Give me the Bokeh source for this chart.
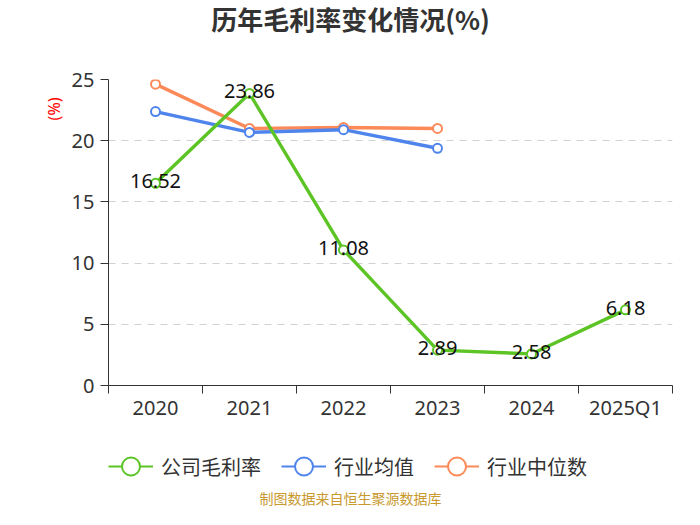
from bokeh.plotting import figure
from bokeh.layouts import column
from bokeh.models import (ColumnDataSource, FixedTicker, Legend, LegendItem,
                          Range1d, Title, Label)
from bokeh.core.properties import value
from bokeh.embed import file_html
from bokeh.resources import INLINE

# ---- data ----
categories = ["2020", "2021", "2022", "2023", "2024", "2025Q1"]
company_margin = [16.52, 23.86, 11.08, 2.89, 2.58, 6.18]
industry_mean = [22.38, 20.68, 20.90, 19.38, None, None]
industry_median = [24.62, 21.00, 21.08, 21.00, None, None]
series_names = ["公司毛利率", "行业均值", "行业中位数"]
y_ticks = [0, 5, 10, 15, 20, 25]
title_text = "历年毛利率变化情况(%)"
y_label_text = "(%)"
footer_text = "制图数据来自恒生聚源数据库"

colors = ["#5cc424", "#4f84ec", "#fc8a59"]

W = 684
H_TOP = 40
H_MAIN = 400
H_LEG = 69
FRAME_LEFT = 108
FRAME_TOP = 79
FRAME_BOTTOM = 385


def strip(height):
    f = figure(width=W, height=height, output_backend="svg", toolbar_location=None,
               x_range=Range1d(1000, 1000 + W), y_range=Range1d(1000, 1000 + height),
               x_axis_type=None, y_axis_type=None, min_border=0, title=None)
    f.outline_line_color = None
    f.xgrid.grid_line_color = None
    f.ygrid.grid_line_color = None
    f.background_fill_color = "white"
    f.border_fill_color = "white"
    return f


# ---- title strip ----
t = strip(H_TOP)
t.add_layout(Label(x=350 - FRAME_LEFT, y=H_TOP - 18, x_units="screen", y_units="screen",
                   text=title_text, text_align="center", text_baseline="middle",
                   text_font="Noto Sans CJK SC", text_font_size="26px",
                   text_font_style="bold", text_color="#333333"))

# ---- main chart ----
p = figure(width=W, height=H_MAIN, output_backend="svg", toolbar_location=None,
           x_range=Range1d(0, len(categories)), y_range=Range1d(0, 25),
           min_border_left=FRAME_LEFT, min_border_right=12,
           min_border_top=FRAME_TOP - H_TOP,
           min_border_bottom=H_TOP + H_MAIN - FRAME_BOTTOM, title=None)
p.outline_line_color = None
p.background_fill_color = "white"
p.border_fill_color = "white"

xs = [i + 0.5 for i in range(len(categories))]

p.xaxis.ticker = FixedTicker(ticks=xs, minor_ticks=list(range(len(categories) + 1)))
p.xaxis.major_label_overrides = {x: c for x, c in zip(xs, categories)}
p.xaxis.major_tick_out = 0
p.xaxis.major_tick_in = 0
p.xaxis.minor_tick_out = 8
p.xaxis.minor_tick_in = 0
p.xaxis.minor_tick_line_color = "#333333"
p.xaxis.axis_line_color = "#333333"
p.xaxis.major_label_text_font = "Noto Sans"
p.xaxis.major_label_text_font_size = "20px"
p.xaxis.major_label_text_color = "#333333"
p.xaxis.major_label_standoff = 0

p.yaxis.ticker = FixedTicker(ticks=y_ticks)
p.yaxis.major_tick_out = 8
p.yaxis.major_tick_in = 0
p.yaxis.minor_tick_line_color = None
p.yaxis.axis_line_color = "#333333"
p.yaxis.major_tick_line_color = "#333333"
p.yaxis.major_label_text_font = "Noto Sans"
p.yaxis.major_label_text_font_size = "20px"
p.yaxis.major_label_text_color = "#333333"
p.yaxis.major_label_standoff = 6

p.xgrid.grid_line_color = None
p.ygrid.ticker = FixedTicker(ticks=y_ticks[1:])
p.ygrid.grid_line_color = "#d0d0d0"
p.ygrid.grid_line_dash = "7 6"
p.ygrid.grid_line_width = 1

all_series = [company_margin, industry_mean, industry_median]
for idx in [2, 1, 0]:
    vals = all_series[idx]
    px = [x for x, v in zip(xs, vals) if v is not None]
    py = [v for v in vals if v is not None]
    src = ColumnDataSource(dict(x=px, y=py))
    p.line("x", "y", source=src, line_color=colors[idx], line_width=3.4)
    p.scatter("x", "y", source=src, size=9, marker="circle", fill_color="white",
              line_color=colors[idx], line_width=2)

lab_src = ColumnDataSource(dict(x=xs, y=company_margin,
                                t=["%.2f" % v for v in company_margin]))
p.text("x", "y", text="t", source=lab_src, text_align="center",
       text_baseline="middle", text_font_size="20px", text_color="#111111",
       y_offset=-2, text_font=value("Noto Sans"))

p.add_layout(Title(text=y_label_text, align="right", offset=18, standoff=8,
                   text_font="Noto Sans", text_font_size="16px",
                   text_font_style="normal", text_color="#ff0000"), "left")

# ---- legend + footer strip ----
q = strip(H_LEG)
items = []
for idx, name in enumerate(series_names):
    vals = all_series[idx]
    px = [x for x, v in zip(xs, vals) if v is not None]
    py = [v for v in vals if v is not None]
    src = ColumnDataSource(dict(x=px, y=py))
    r1 = q.line("x", "y", source=src, line_color=colors[idx], line_width=2)
    r2 = q.scatter("x", "y", source=src, size=19, marker="circle",
                   fill_color="white", line_color=colors[idx], line_width=2)
    items.append(LegendItem(label=name, renderers=[r1, r2]))
legend = Legend(items=items, orientation="horizontal", location=(0, 19),
                padding=0, margin=0, spacing=20, glyph_width=45, glyph_height=48,
                label_standoff=8, label_text_font="Noto Sans CJK SC",
                label_text_font_size="20px", label_text_color="#333333",
                border_line_color=None, background_fill_alpha=0)
q.add_layout(legend, "center")
q.add_layout(Label(x=350 - FRAME_LEFT, y=12, x_units="screen", y_units="screen",
                   text=footer_text, text_align="center", text_baseline="middle",
                   text_font="Noto Sans CJK SC", text_font_size="14px",
                   text_color="#c8992e"))

layout = column(t, p, q, spacing=0)
open("out.html", "w").write(file_html(layout, INLINE))
